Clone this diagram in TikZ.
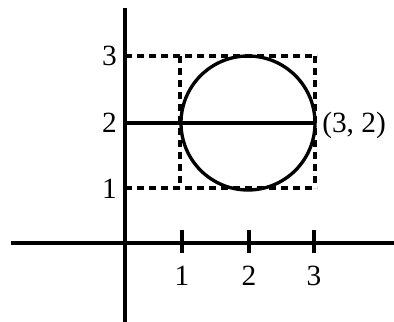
\documentclass[tikz,border=0pt]{standalone}
\usepackage{fontspec}
\setmainfont{Liberation Serif}
\begin{document}
\begin{tikzpicture}[x=0.75pt,y=-0.75pt,
  axis/.style={line width=2.5pt},
  curve/.style={line width=2.5pt},
  tick/.style={line width=2.5pt},
  dashline/.style={dash pattern=on 5.5pt off 3.5pt, line width=2.4pt},
  lab/.style={font=\fontsize{22}{24}\selectfont, inner sep=0pt}]
\useasboundingbox (0,0) rectangle (394,322);
% axes
\coordinate (ytop) at (125,8);
\coordinate (ybot) at (125,322);
\coordinate (xl) at (11,243);
\coordinate (xr) at (394,243);
\draw[axis] (ytop) -- (ybot);
\draw[axis] (xl) -- (xr);
% ticks
\foreach \x/\n in {182/1,249/2,314/3}{
  \coordinate (t\n a) at (\x,230);
  \coordinate (t\n b) at (\x,253);
  \draw[tick] (t\n a) -- (t\n b);
  \node[lab] (xl\n) at (\x,276) {\n};
}
% y labels
\node[lab,anchor=east] (yl3) at (117,56) {3};
\node[lab,anchor=east] (yl2) at (117,123) {2};
\node[lab,anchor=east] (yl1) at (117,189) {1};
% dashed box
\coordinate (a3) at (125,56);
\coordinate (b3) at (317,56);
\coordinate (a1) at (125,188);
\coordinate (b1) at (317,188);
\coordinate (l3) at (180,56);
\coordinate (l1) at (180,188);
\coordinate (r3) at (315,56);
\coordinate (r1) at (315,188);
\draw[dashline] (a3) -- (b3);
\draw[dashline] (a1) -- (b1);
\draw[dashline] (l3) -- (l1);
\draw[dashline] (r3) -- (r1);
% circle and diameter
\coordinate (c) at (248,123);
\draw[curve] (c) circle[radius=67];
\coordinate (a2) at (125,123);
\coordinate (b2) at (315,123);
\draw[curve] (a2) -- (b2);
\node[lab,anchor=west] (pt) at (322,125) {(3, 2)};
\end{tikzpicture}
\end{document}
